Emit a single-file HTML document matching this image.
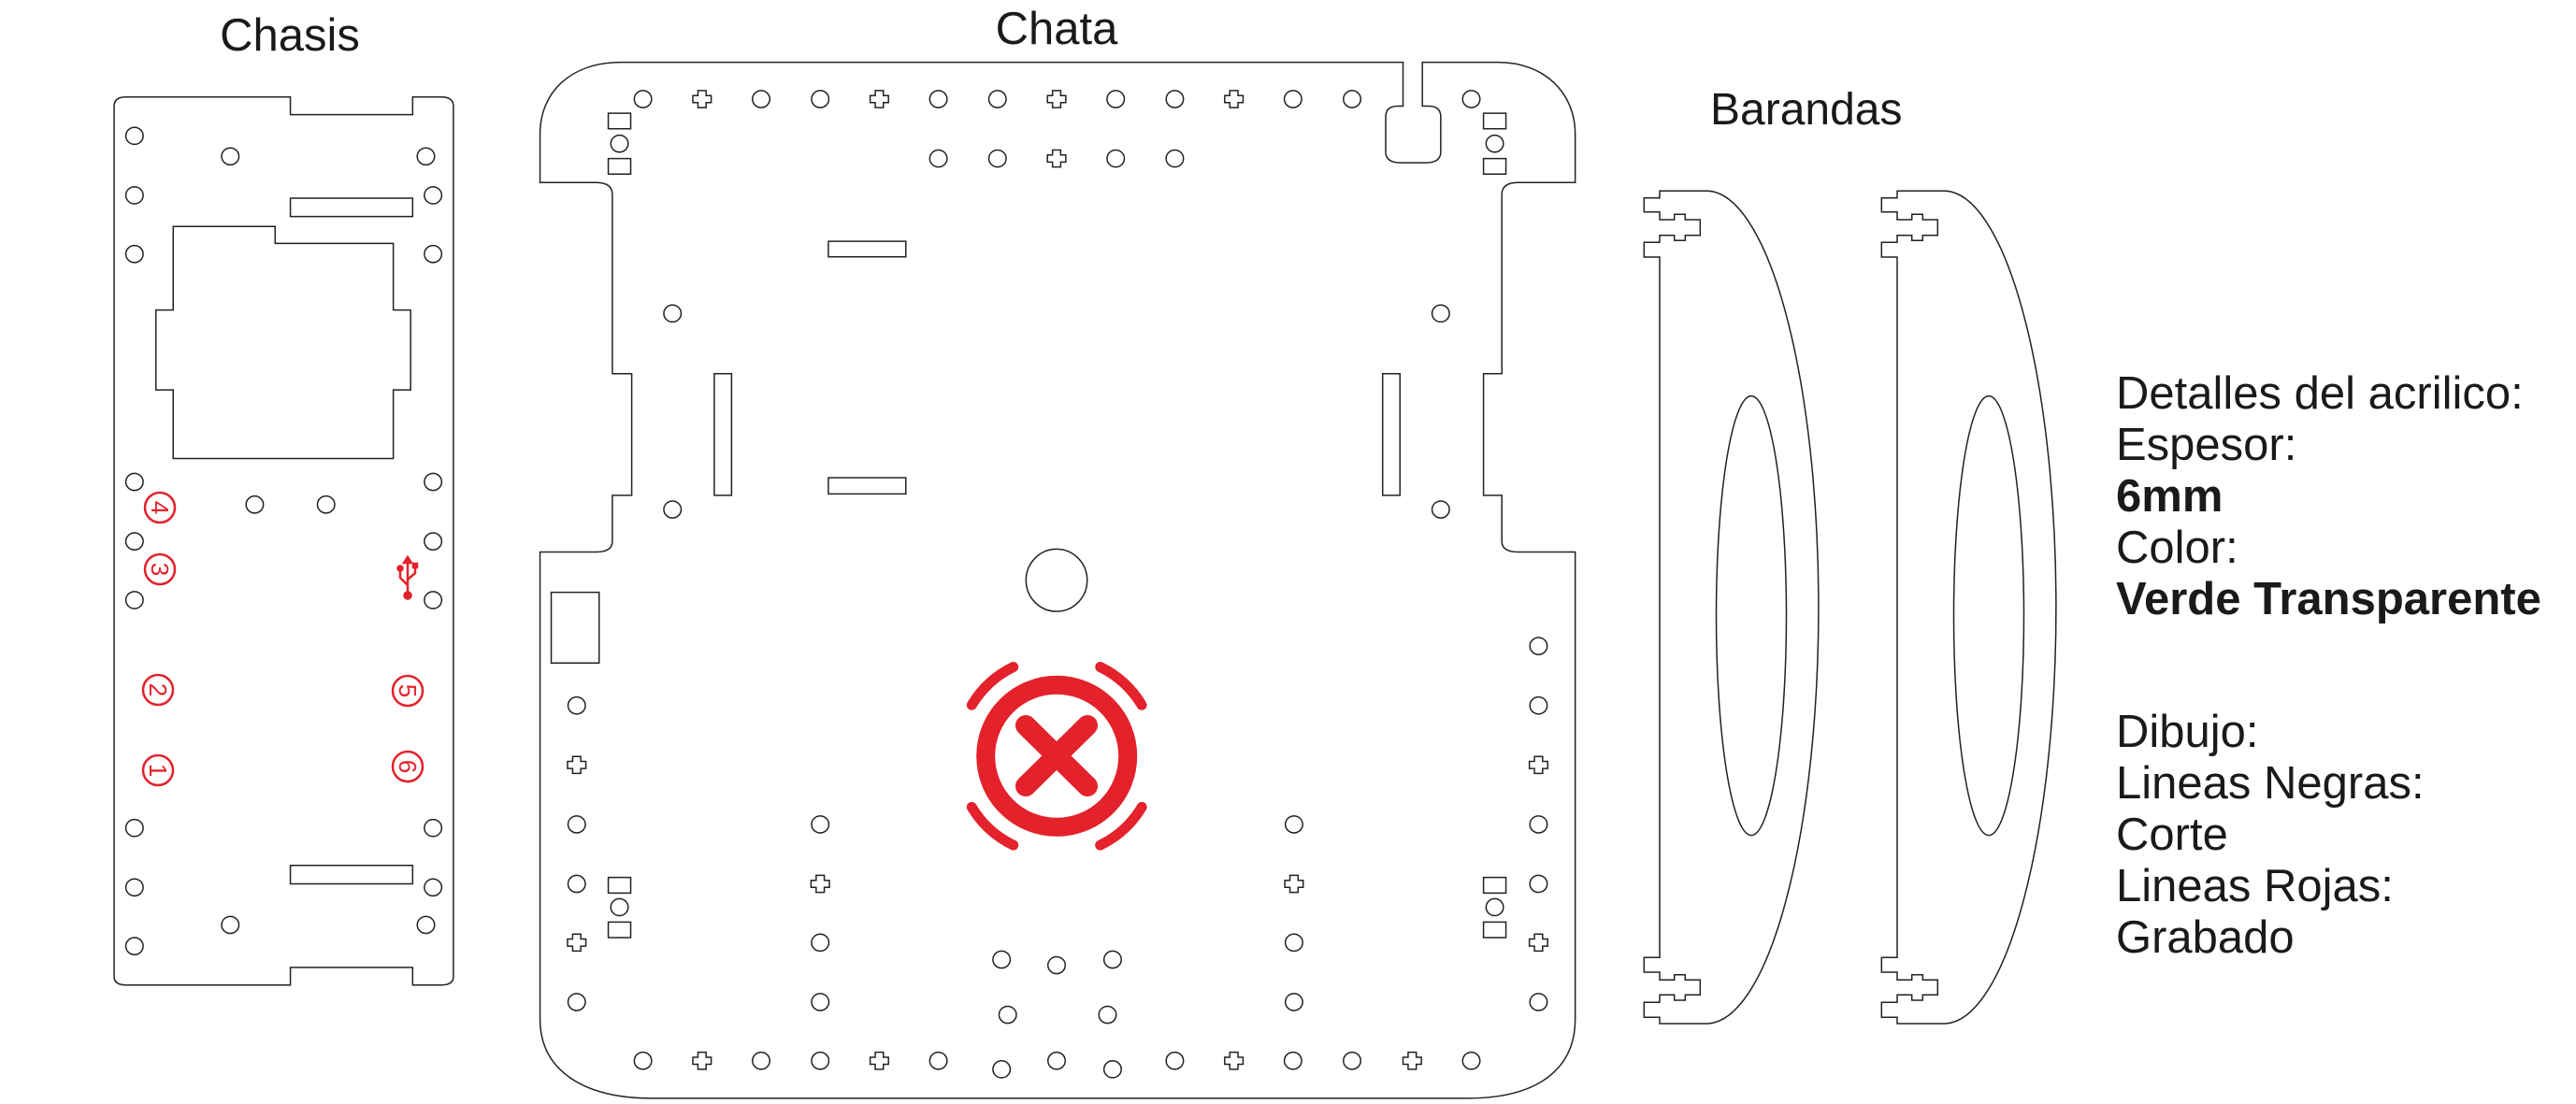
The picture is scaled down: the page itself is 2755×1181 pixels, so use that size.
<!DOCTYPE html>
<html><head><meta charset="utf-8"><style>
html,body{margin:0;padding:0;background:#fff;}
svg{display:block;}
text{font-family:"Liberation Sans",Arial,sans-serif;fill:#1a1a1a;}
</style></head><body>
<svg width="2755" height="1181" viewBox="0 0 2755 1181" xmlns="http://www.w3.org/2000/svg">
<defs>
<ellipse id="o" cx="0" cy="0" rx="8.5" ry="12" fill="none" stroke="#222" stroke-width="1.5" vector-effect="non-scaling-stroke"/>
<path id="p" d="M-4,-12 H4 V-5 H9 V5 H4 V12 H-4 V5 H-9 V-5 H-4 Z" fill="none" stroke="#222" stroke-width="1.5" vector-effect="non-scaling-stroke"/>
</defs>

<text x="310" y="54" font-size="49" text-anchor="middle">Chasis</text>
<text x="1130" y="47" font-size="49" text-anchor="middle">Chata</text>
<text x="1829" y="133" font-size="48">Barandas</text>

<g font-size="49">
<text x="2263" y="437">Detalles del acrilico:</text>
<text x="2263" y="492">Espesor:</text>
<text x="2263" y="547" font-weight="bold">6mm</text>
<text x="2263" y="602">Color:</text>
<text x="2263" y="657" font-weight="bold">Verde Transparente</text>
<text x="2263" y="799">Dibujo:</text>
<text x="2263" y="854">Lineas Negras:</text>
<text x="2263" y="909">Corte</text>
<text x="2263" y="964">Lineas Rojas:</text>
<text x="2263" y="1019">Grabado</text>
</g>

<g transform="matrix(1.0897 0 0 0.757 0 0)" fill="none" stroke="#222" stroke-width="1.5">
<path vector-effect="non-scaling-stroke" d="M124,137 H285 V162 H405 V137 H433 Q445,137 445,150 V1380 Q445,1392 433,1392 H405 V1367 H285 V1392 H124 Q112,1392 112,1380 V150 Q112,137 124,137 Z"/>
<path vector-effect="non-scaling-stroke" d="M170,320 H270 V344 H386 V438 H403 V551 H386 V648 H170 V551 H153 V438 H170 Z"/>
<rect vector-effect="non-scaling-stroke" x="285" y="280" width="120" height="26"/>
<rect vector-effect="non-scaling-stroke" x="285" y="1223" width="120" height="26"/>
<use href="#o" x="132" y="192"/><use href="#o" x="132" y="276"/><use href="#o" x="132" y="359"/><use href="#o" x="132" y="681"/><use href="#o" x="132" y="765"/><use href="#o" x="132" y="848"/><use href="#o" x="132" y="1170"/><use href="#o" x="132" y="1254"/><use href="#o" x="132" y="1337"/>
<use href="#o" x="425" y="276"/><use href="#o" x="425" y="359"/><use href="#o" x="425" y="681"/><use href="#o" x="425" y="765"/><use href="#o" x="425" y="848"/><use href="#o" x="425" y="1170"/><use href="#o" x="425" y="1254"/>
<use href="#o" x="418" y="221"/><use href="#o" x="418" y="1307"/><use href="#o" x="226" y="221"/><use href="#o" x="226" y="1307"/>
<use href="#o" x="250" y="713"/><use href="#o" x="320" y="713"/>

<path vector-effect="non-scaling-stroke" d="M610,88 H1377 V150 H1372 Q1360,150 1360,165 V215 Q1360,230 1375,230 H1399 Q1414,230 1414,215 V165 Q1414,150 1402,150 H1396 V88 H1470 C1515,88 1546,130 1546,190 V258 H1490 Q1474,258 1474,275 V528 H1456 V700 H1474 V765 Q1474,780 1490,780 H1546 V1440 C1546,1510 1510,1552 1440,1552 H640 C570,1552 530,1510 530,1440 V780 H585 Q601,780 601,765 V700 H620 V528 H601 V275 Q601,258 585,258 H530 V190 C530,130 560,88 610,88 Z"/>
<rect vector-effect="non-scaling-stroke" x="597" y="160" width="22" height="22"/>
<rect vector-effect="non-scaling-stroke" x="597" y="224" width="22" height="22"/>
<rect vector-effect="non-scaling-stroke" x="1456" y="160" width="22" height="22"/>
<rect vector-effect="non-scaling-stroke" x="1456" y="224" width="22" height="22"/>
<rect vector-effect="non-scaling-stroke" x="597" y="1240" width="22" height="22"/>
<rect vector-effect="non-scaling-stroke" x="597" y="1303" width="22" height="22"/>
<rect vector-effect="non-scaling-stroke" x="1456" y="1240" width="22" height="22"/>
<rect vector-effect="non-scaling-stroke" x="1456" y="1303" width="22" height="22"/>
<rect vector-effect="non-scaling-stroke" x="813" y="341" width="76" height="22"/>
<rect vector-effect="non-scaling-stroke" x="813" y="675" width="76" height="23"/>
<rect vector-effect="non-scaling-stroke" x="701" y="528" width="17" height="172"/>
<rect vector-effect="non-scaling-stroke" x="1357" y="528" width="17" height="172"/>
<rect vector-effect="non-scaling-stroke" x="541" y="837" width="47" height="100"/>
<ellipse vector-effect="non-scaling-stroke" cx="1037" cy="820" rx="30" ry="44"/>
<use href="#o" x="608" y="203"/><use href="#o" x="1467" y="203"/><use href="#o" x="608" y="1282"/><use href="#o" x="1467" y="1282"/>
<use href="#o" x="631" y="140"/><use href="#p" x="689" y="140"/><use href="#o" x="747" y="140"/><use href="#o" x="805" y="140"/><use href="#p" x="863" y="140"/><use href="#o" x="921" y="140"/><use href="#o" x="979" y="140"/><use href="#p" x="1037" y="140"/><use href="#o" x="1095" y="140"/><use href="#o" x="1153" y="140"/><use href="#p" x="1211" y="140"/><use href="#o" x="1269" y="140"/><use href="#o" x="1327" y="140"/><use href="#o" x="1444" y="140"/>
<use href="#o" x="921" y="224"/><use href="#o" x="979" y="224"/><use href="#p" x="1037" y="224"/><use href="#o" x="1095" y="224"/><use href="#o" x="1153" y="224"/>
<use href="#o" x="660" y="443"/><use href="#o" x="660" y="720"/><use href="#o" x="1414" y="443"/><use href="#o" x="1414" y="720"/>
<use href="#o" x="566" y="997"/><use href="#p" x="566" y="1081"/><use href="#o" x="566" y="1165"/><use href="#o" x="566" y="1249"/><use href="#p" x="566" y="1332"/><use href="#o" x="566" y="1416"/>
<use href="#o" x="1510" y="913"/><use href="#o" x="1510" y="997"/><use href="#p" x="1510" y="1081"/><use href="#o" x="1510" y="1165"/><use href="#o" x="1510" y="1249"/><use href="#p" x="1510" y="1332"/><use href="#o" x="1510" y="1416"/>
<use href="#o" x="805" y="1165"/><use href="#p" x="805" y="1249"/><use href="#o" x="805" y="1332"/><use href="#o" x="805" y="1416"/>
<use href="#o" x="1270" y="1165"/><use href="#p" x="1270" y="1249"/><use href="#o" x="1270" y="1332"/><use href="#o" x="1270" y="1416"/>
<use href="#o" x="983" y="1356"/><use href="#o" x="1037" y="1364"/><use href="#o" x="1092" y="1356"/><use href="#o" x="989" y="1434"/><use href="#o" x="1087" y="1434"/>
<use href="#o" x="631" y="1499"/><use href="#p" x="689" y="1499"/><use href="#o" x="747" y="1499"/><use href="#o" x="805" y="1499"/><use href="#p" x="863" y="1499"/><use href="#o" x="921" y="1499"/><use href="#o" x="983" y="1511"/><use href="#o" x="1037" y="1499"/><use href="#o" x="1092" y="1511"/><use href="#o" x="1153" y="1499"/><use href="#p" x="1211" y="1499"/><use href="#o" x="1269" y="1499"/><use href="#o" x="1327" y="1499"/><use href="#p" x="1386" y="1499"/><use href="#o" x="1444" y="1499"/>
</g>

<g fill="none" stroke="#e3222b" stroke-width="2.5">
<circle cx="171" cy="543" r="16"/><circle cx="171" cy="609" r="16"/><circle cx="169" cy="738" r="16"/><circle cx="169" cy="824" r="16"/><circle cx="436" cy="739" r="16"/><circle cx="436" cy="820" r="16"/>
</g>
<g font-size="26" text-anchor="middle">
<text transform="translate(171,543) rotate(90)" y="9" style="fill:#e3222b">4</text>
<text transform="translate(171,609) rotate(90)" y="9" style="fill:#e3222b">3</text>
<text transform="translate(169,738) rotate(90)" y="9" style="fill:#e3222b">2</text>
<text transform="translate(169,824) rotate(90)" y="9" style="fill:#e3222b">1</text>
<text transform="translate(436,739) rotate(90)" y="9" style="fill:#e3222b">5</text>
<text transform="translate(436,820) rotate(90)" y="9" style="fill:#e3222b">6</text>
</g>
<g stroke="#e3222b" stroke-width="2.5" fill="none">
<line x1="436" y1="600" x2="436" y2="636"/>
<path d="M436,626 L428,618 V610"/><path d="M436,620 L444,613 V606"/>
<circle cx="436" cy="637" r="3.5" fill="#e3222b"/><circle cx="428" cy="608" r="2.5" fill="#e3222b"/>
<rect x="442" y="603" width="4" height="4" fill="#e3222b"/>
<path d="M432,602 L436,596 L440,602 Z" fill="#e3222b"/>
</g>

<g fill="none" stroke="#e3222b" stroke-linecap="round">
<circle cx="1130.2" cy="808.8" r="76" stroke-width="20"/>
<line x1="1097" y1="776" x2="1163" y2="841" stroke-width="22"/>
<line x1="1163" y1="776" x2="1097" y2="841" stroke-width="22"/>
<path d="M1039.3,754.2 A106,106 0 0 1 1083.7,713.5" stroke-width="11"/>
<path d="M1176.7,713.5 A106,106 0 0 1 1221.1,754.2" stroke-width="11"/>
<path d="M1221.1,863.4 A106,106 0 0 1 1176.7,904.1" stroke-width="11"/>
<path d="M1083.7,904.1 A106,106 0 0 1 1039.3,863.4" stroke-width="11"/>
</g>

<g fill="none" stroke="#222" stroke-width="1.5">
<g id="bar">
<path d="M1826.7,204.3 H1775 V211.7 H1758.3 V226.7 H1775 V235 H1790.7 V229.3 H1802.3 V235 H1818.3 V251.7 H1802.3 V257.3 H1790.7 V251.7 H1775 V259.3 H1758.3 V275 H1775 V1024.3 H1758.3 V1040 H1775 V1048.3 H1790.7 V1042.7 H1802.3 V1048.3 H1818.3 V1064.3 H1802.3 V1070 H1790.7 V1064.3 H1775 V1072.3 H1758.3 V1088.3 H1775 V1095 H1826.7 A120,445.4 0 0 0 1826.7,204.3 Z"/>
<ellipse cx="1873" cy="658.6" rx="37.5" ry="235"/>
</g>
<use href="#bar" x="254" y="0"/>
</g>
</svg>
</body></html>
